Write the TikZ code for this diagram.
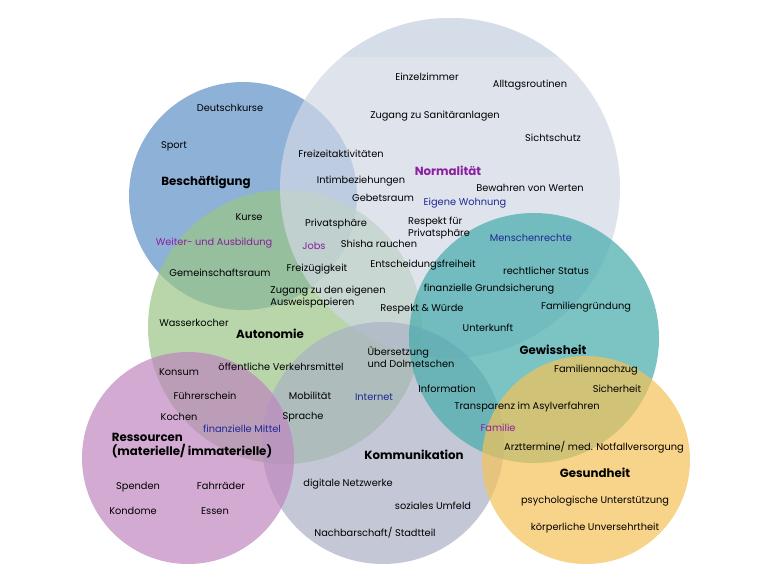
\documentclass[tikz,border=0pt]{standalone}
\usepackage{fontspec}
\setmainfont{Poppins}
\definecolor{beschblue}{RGB}{95,144,199}
\definecolor{autogreen}{RGB}{154,198,135}
\definecolor{normgray}{RGB}{209,216,229}
\definecolor{normcap}{RGB}{213,221,233}
\definecolor{kommgray}{RGB}{171,178,197}
\definecolor{gewteal}{RGB}{69,171,171}
\definecolor{resspurple}{RGB}{191,134,191}
\definecolor{gesyellow}{RGB}{245,195,88}
\definecolor{keypurple}{RGB}{140,30,160}
\definecolor{keyblue}{RGB}{30,40,150}

\begin{document}
\begin{tikzpicture}[x=1pt,y=-1pt,
    area/.style={fill opacity=0.7},
    item/.style={font=\fontsize{9.8}{12}\selectfont, inner sep=0pt, align=left},
    topic/.style={font=\fontsize{11.8}{14}\selectfont\bfseries, inner sep=0pt, align=left},
    purplekey/.style={item, text=keypurple},
    bluekey/.style={item, text=keyblue}]
\fill[white] (0,0) rectangle (764,563);
\useasboundingbox (0,0) rectangle (764,563);
% circles
\fill[area, beschblue] (243,196) circle[radius=114pt];
\fill[area, autogreen] (285,327) circle[radius=137pt];
\fill[area, normgray] (450,188) circle[radius=170pt];
\begin{scope}
  \clip (450,188) circle[radius=170pt];
  \fill[normcap] (270,10) rectangle (630,57);
\end{scope}
\fill[area, kommgray] (383,443) circle[radius=121pt];
\fill[area, gewteal] (534,338) circle[radius=125pt];
\fill[area, resspurple] (188,458) circle[radius=106pt];
\fill[area, gesyellow] (586,460) circle[radius=104pt];
% Beschaeftigung
\node[item] (deutsch) at (230,108) {Deutschkurse};
\node[item] (sport) at (174,146) {Sport};
\node[topic] (besch) at (206,182) {Beschäftigung};
\node[item] (kurse) at (249,217) {Kurse};
\node[purplekey] (weiter) at (214,243) {Weiter- und Ausbildung};
\node[item] (gemein) at (220,273) {Gemeinschaftsraum};
% Normalitaet
\node[item] (einzel) at (427,77) {Einzelzimmer};
\node[item] (alltag) at (530,85) {Alltagsroutinen};
\node[item] (sanitaer) at (435,116) {Zugang zu Sanitäranlagen};
\node[item] (sicht) at (553,138) {Sichtschutz};
\node[item] (freizeit) at (341,154) {Freizeitaktivitäten};
\node[topic, text=keypurple] (norm) at (448,171) {Normalität};
\node[item] (intim) at (361,181) {Intimbeziehungen};
\node[item] (werte) at (530,188) {Bewahren von Werten};
\node[item] (gebet) at (383,198) {Gebetsraum};
\node[bluekey] (wohnung) at (465,203) {Eigene Wohnung};
\node[item] (privat) at (336,224) {Privatsphäre};
\node[item] (respriv) at (439,228) {Respekt für\\Privatsphäre};
\node[purplekey] (jobs) at (314,246) {Jobs};
\node[item] (shisha) at (379,244) {Shisha rauchen};
\node[item] (entsch) at (423,265) {Entscheidungsfreiheit};
% Autonomie
\node[item] (freizueg) at (317,269) {Freizügigkeit};
\node[item] (ausweis) at (328,297) {Zugang zu den eigenen\\Ausweispapieren};
\node[item] (wasser) at (194,323) {Wasserkocher};
\node[topic] (auto) at (270,334) {Autonomie};
\node[item] (respekt) at (422,309) {Respekt \& Würde};
% Gewissheit
\node[bluekey] (menschen) at (531,238) {Menschenrechte};
\node[item] (status) at (546,271) {rechtlicher Status};
\node[item] (grund) at (489,289) {finanzielle Grundsicherung};
\node[item] (gruendung) at (586,307) {Familiengründung};
\node[item] (unterkunft) at (488,328) {Unterkunft};
\node[topic] (gewiss) at (553,350) {Gewissheit};
\node[item] (nachzug) at (596,370) {Familiennachzug};
\node[item] (sicher) at (617,389) {Sicherheit};
\node[item] (transp) at (527,407) {Transparenz im Asylverfahren};
\node[purplekey] (familie) at (498,428) {Familie};
% Ressourcen
\node[item] (konsum) at (179,372) {Konsum};
\node[item] (oeffi) at (281,367) {öffentliche Verkehrsmittel};
\node[item] (fuehrer) at (205,396) {Führerschein};
\node[item] (kochen) at (179,417) {Kochen};
\node[bluekey] (mittel) at (242,429) {finanzielle Mittel};
\node[topic] (ress) at (192,446) {Ressourcen\\(materielle/ immaterielle)};
\node[item] (spenden) at (138,487) {Spenden};
\node[item] (fahrrad) at (221,486) {Fahrräder};
\node[item] (kondome) at (133,511) {Kondome};
\node[item] (essen) at (215,511) {Essen};
% Kommunikation
\node[item] (mobil) at (310,396) {Mobilität};
\node[item] (sprache) at (303,417) {Sprache};
\node[item] (uebers) at (411,357) {Übersetzung\\und Dolmetschen};
\node[bluekey] (internet) at (374,397) {Internet};
\node[item] (info) at (447,389) {Information};
\node[topic] (komm) at (414,455) {Kommunikation};
\node[item] (digital) at (348,484) {digitale Netzwerke};
\node[item] (umfeld) at (433,506) {soziales Umfeld};
\node[item] (nachbar) at (375,533) {Nachbarschaft/ Stadtteil};
% Gesundheit
\node[item] (arzt) at (594,447) {Arzttermine/ med. Notfallversorgung};
\node[topic] (gesund) at (595,473) {Gesundheit};
\node[item] (psycho) at (595,501) {psychologische Unterstützung};
\node[item] (koerper) at (595,528) {körperliche Unversehrtheit};
\end{tikzpicture}
\end{document}
